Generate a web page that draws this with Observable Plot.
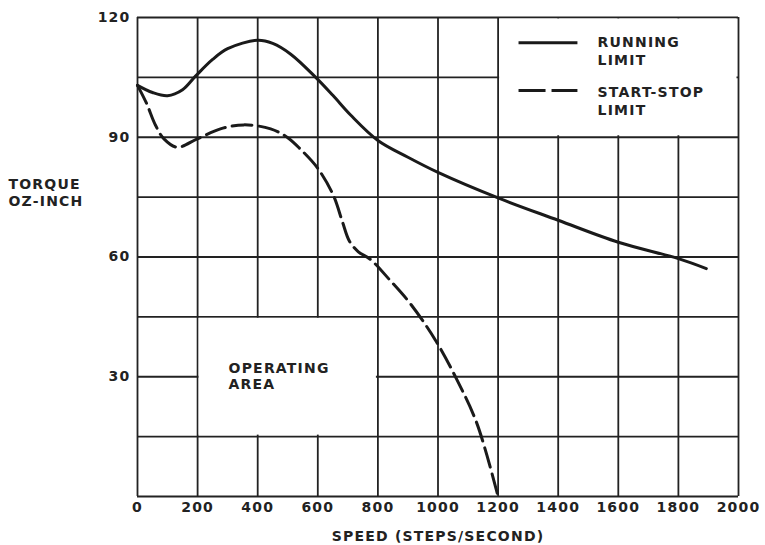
<!DOCTYPE html>
<html><head><meta charset="utf-8">
<script src="https://cdn.jsdelivr.net/npm/d3@7"></script>
<script src="https://cdn.jsdelivr.net/npm/@observablehq/plot@0.6"></script>
<style>
body{margin:0;background:#fff;}
#chart svg{display:block;}
#chart svg text{letter-spacing:1.2px;}
</style></head><body><div id="chart"></div>
<script>
// Running limit (solid)
const runningSpeed  = [0, 50, 100, 150, 193, 250, 300, 400, 450, 510, 593, 650, 710, 800, 900, 1000, 1200, 1400, 1600, 1800, 1893];
const runningTorque = [103, 101.2, 100.4, 101.9, 105.3, 109.5, 112.2, 114.3, 113.5, 110.8, 105, 100.5, 95.5, 89.2, 85, 81.2, 74.8, 69.2, 63.7, 59.6, 57.1];
// Start-stop limit (dashed)
const startStopSpeed  = [0, 30, 60, 88, 132, 199, 276, 354, 443, 500, 545, 600, 652, 682, 705, 735, 775, 840, 908, 992, 1064, 1130, 1200];
const startStopTorque = [103, 98.5, 93, 89.6, 87.5, 89.6, 92.1, 93.1, 92.1, 89.9, 86.8, 82.2, 75.4, 68.8, 64.0, 61.3, 59.4, 54.2, 48.3, 39.1, 29.1, 18.2, 0];
// Axis ticks and grid
const xTicks = [0, 200, 400, 600, 800, 1000, 1200, 1400, 1600, 1800, 2000];
const yTicks = [30, 60, 90, 120];
const gridY  = [0, 15, 30, 45, 60, 75, 90, 105, 120];
// Blank (grid-free) boxes: operating area label box and legend box
const blankX1 = [200, 1200], blankX2 = [800, 2000], blankY1 = [15, 90], blankY2 = [45, 120];
const xLabel = "SPEED (STEPS/SECOND)";
const yLabel = "TORQUE\nOZ-INCH";
const seriesNames = ["RUNNING\nLIMIT", "START-STOP\nLIMIT"];
const areaLabel = "OPERATING\nAREA";

const running = runningSpeed.map((s, i) => ({speed: s, torque: runningTorque[i]}));
const startStop = startStopSpeed.map((s, i) => ({speed: s, torque: startStopTorque[i]}));
const blanks = blankX1.map((x1, i) => ({x1, x2: blankX2[i], y1: blankY1[i], y2: blankY2[i]}));

const ink = "#222";
const chart = Plot.plot({
  width: 765, height: 545,
  marginLeft: 137, marginRight: 27, marginTop: 17, marginBottom: 49,
  x: {domain: [0, 2000]},
  y: {domain: [0, 120]},
  style: {fontFamily: "'DejaVu Sans', sans-serif", fontSize: "14px", fontWeight: "bold", color: ink, background: "#fff"},
  marks: [
    Plot.ruleX(xTicks, {stroke: ink, strokeWidth: 1.8}),
    Plot.ruleY(gridY, {stroke: ink, strokeWidth: 1.8}),
    Plot.rect(blanks, {x1: "x1", x2: "x2", y1: "y1", y2: "y2", fill: "#fff", inset: 1.5}),
    Plot.line(running, {x: "speed", y: "torque", curve: "catmull-rom", stroke: "#1a1a1a", strokeWidth: 3}),
    Plot.line(startStop, {x: "speed", y: "torque", curve: "catmull-rom", stroke: "#1a1a1a", strokeWidth: 3, strokeDasharray: "20,7"}),
    Plot.axisX({ticks: xTicks, tickSize: 0, tickPadding: 6, tickFormat: d => String(d), label: null}),
    Plot.axisY({ticks: yTicks, tickSize: 0, tickPadding: 7, label: null}),
    Plot.text([xLabel], {frameAnchor: "bottom", dy: 40, lineAnchor: "middle", text: d => d}),
    Plot.text([yLabel], {frameAnchor: "left", dx: -129, dy: -65, textAnchor: "start", lineAnchor: "middle", lineHeight: 1.2, text: d => d}),
    Plot.text([areaLabel], {x: () => 303, y: () => 30.3, textAnchor: "start", lineAnchor: "middle", lineHeight: 1.15, text: d => d}),
    // legend
    Plot.link([seriesNames[0]], {x1: () => 1268, x2: () => 1464, y1: () => 113.7, y2: () => 113.7, stroke: "#1a1a1a", strokeWidth: 3}),
    Plot.link([seriesNames[1]], {x1: () => 1268, x2: () => 1464, y1: () => 101.7, y2: () => 101.7, stroke: "#1a1a1a", strokeWidth: 3, strokeDasharray: "27,6"}),
    Plot.text([seriesNames[0]], {x: () => 1531, y: () => 111.8, textAnchor: "start", lineAnchor: "middle", lineHeight: 1.3, text: d => d}),
    Plot.text([seriesNames[1]], {x: () => 1531, y: () => 99.3, textAnchor: "start", lineAnchor: "middle", lineHeight: 1.3, text: d => d})
  ]
});
document.getElementById("chart").appendChild(chart);
</script></body></html>
